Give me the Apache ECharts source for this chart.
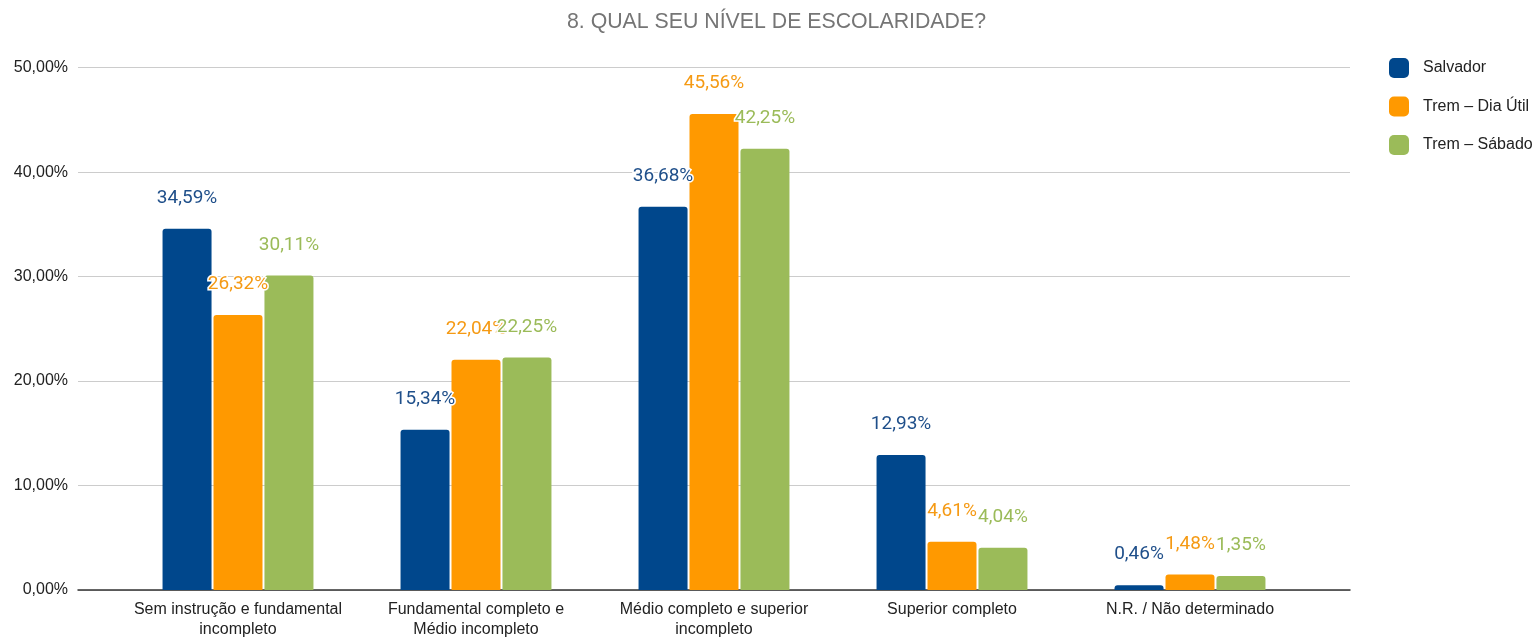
<!DOCTYPE html>
<html>
<head>
<meta charset="utf-8">
<script src="https://cdn.jsdelivr.net/npm/echarts@6/dist/echarts.min.js"></script>
<style>
  html, body { margin: 0; padding: 0; background: #fff; }
  #chart { width: 1539px; height: 638px; }
</style>
</head>
<body>
<div id="chart"></div>
<script>
const titleText = '8. QUAL SEU NÍVEL DE ESCOLARIDADE?';
const categories = [
  'Sem instrução e fundamental\nincompleto',
  'Fundamental completo e\nMédio incompleto',
  'Médio completo e superior\nincompleto',
  'Superior completo',
  'N.R. / Não determinado'
];
const seriesNames = ['Salvador', 'Trem – Dia Útil', 'Trem – Sábado'];
const salvador = [34.59, 15.34, 36.68, 12.93, 0.46];
const tremDiaUtil = [26.32, 22.04, 45.56, 4.61, 1.48];
const tremSabado = [30.11, 22.25, 42.25, 4.04, 1.35];
const yTicks = [0, 10, 20, 30, 40, 50];

const barColors = ['#00478c', '#ff9900', '#9bbb59'];
const labelColors = ['#1f4f8a', '#f59a14', '#9bbb59'];

const fmt = v => v.toFixed(2).replace('.', ',') + '%';

const chart = echarts.init(document.getElementById('chart'));

function barSeries(name, data, i) {
  return {
    name: name,
    type: 'bar',
    xAxisIndex: 1,
    yAxisIndex: 1,
    data: data,
    barWidth: 49,
    barGap: '4%',
    itemStyle: { color: barColors[i], borderRadius: [3, 3, 0, 0] },
    label: {
      show: true,
      position: 'top',
      distance: 21,
      formatter: p => fmt(p.value),
      color: labelColors[i],
      fontFamily: 'Roboto',
      fontSize: 19,
      textBorderColor: '#fff',
      textBorderWidth: 3
    },
    emphasis: { disabled: true }
  };
}

chart.setOption({
  animation: false,
  title: {
    text: titleText,
    left: 567,
    top: 12,
    padding: 0,
    textStyle: { color: '#757575', fontSize: 21.3, fontWeight: 'normal', fontFamily: 'Liberation Sans' }
  },
  legend: {
    orient: 'vertical',
    left: 1389,
    top: 58,
    padding: 0,
    itemWidth: 20,
    itemHeight: 20,
    itemGap: 18.5,
    icon: 'roundRect',
    data: seriesNames,
    textStyle: { color: '#222', fontSize: 16, fontFamily: 'Liberation Sans', padding: [0, 0, 0, 9] }
  },
  grid: [
    { left: 78, right: 189, top: 67.7, bottom: 48, outerBoundsMode: 'none', containLabel: false },
    { left: 119, right: 230, top: 67.7, bottom: 48, outerBoundsMode: 'none', containLabel: false }
  ],
  xAxis: [
    {
      gridIndex: 0, type: 'category', data: [''],
      axisLine: { show: true, lineStyle: { color: '#333', width: 1.5 } },
      axisTick: { show: false }, axisLabel: { show: false }, splitLine: { show: false }
    },
    {
      gridIndex: 1, type: 'category', data: categories,
      axisLine: { show: false }, axisTick: { show: false },
      axisLabel: { color: '#222', fontSize: 16, fontFamily: 'Liberation Sans', lineHeight: 20.5, margin: 9, interval: 0 }
    }
  ],
  yAxis: [
    {
      gridIndex: 0, type: 'value', min: yTicks[0], max: yTicks[yTicks.length - 1], interval: 10,
      axisLine: { show: false }, axisTick: { show: false },
      axisLabel: { color: '#222', fontSize: 16, fontFamily: 'Liberation Sans', margin: 10, formatter: v => fmt(v) },
      splitLine: { lineStyle: { color: '#cccccc', width: 1 } }
    },
    {
      gridIndex: 1, type: 'value', min: yTicks[0], max: yTicks[yTicks.length - 1], interval: 10,
      show: false, splitLine: { show: false }
    }
  ],
  series: [
    barSeries(seriesNames[0], salvador, 0),
    barSeries(seriesNames[1], tremDiaUtil, 1),
    barSeries(seriesNames[2], tremSabado, 2)
  ]
});
</script>
</body>
</html>
